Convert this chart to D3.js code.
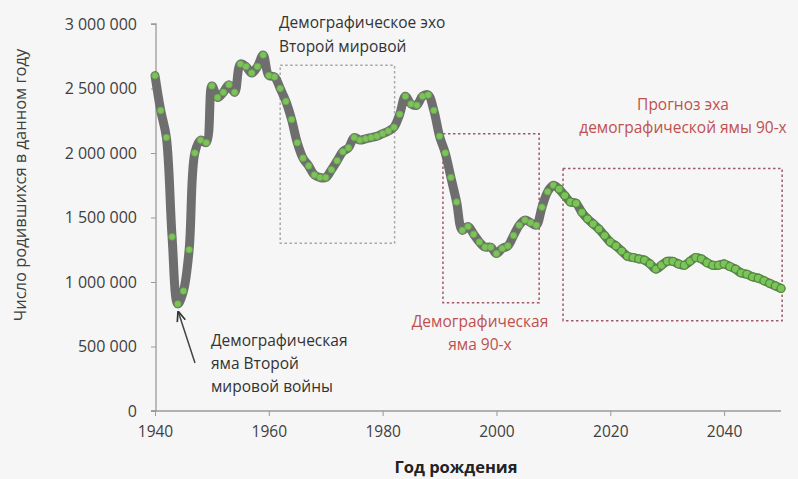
<!DOCTYPE html>
<html><head><meta charset="utf-8">
<script src="https://cdn.jsdelivr.net/npm/d3@7"></script>
<style>
html,body{margin:0;padding:0;background:#f6f6f6;}
svg{display:block;font-family:"Open Sans","DejaVu Sans",sans-serif;}
</style></head>
<body>
<svg id="chart" width="798" height="479"></svg>
<script>
// ---- data ----
const years = d3.range(1940, 2051);
const births = [
  // 1940-1949
  2600000, 2330000, 2120000, 1350000, 830000, 930000, 1250000, 2000000, 2100000, 2080000,
  // 1950-1959
  2520000, 2430000, 2470000, 2530000, 2470000, 2690000, 2670000, 2620000, 2670000, 2760000,
  // 1960-1969
  2600000, 2590000, 2500000, 2400000, 2260000, 2080000, 1960000, 1900000, 1830000, 1810000,
  // 1970-1979
  1810000, 1870000, 1940000, 2010000, 2040000, 2120000, 2100000, 2110000, 2120000, 2130000,
  // 1980-1989
  2150000, 2170000, 2200000, 2300000, 2440000, 2380000, 2370000, 2440000, 2450000, 2330000,
  // 1990-1999
  2130000, 2000000, 1810000, 1620000, 1400000, 1430000, 1370000, 1310000, 1270000, 1270000,
  // 2000-2009
  1220000, 1260000, 1280000, 1360000, 1440000, 1480000, 1460000, 1440000, 1580000, 1700000,
  // 2010-2019
  1750000, 1720000, 1670000, 1620000, 1610000, 1540000, 1490000, 1450000, 1410000, 1360000,
  // 2020-2029
  1310000, 1280000, 1240000, 1200000, 1190000, 1180000, 1170000, 1140000, 1100000, 1130000,
  // 2030-2039
  1160000, 1160000, 1140000, 1130000, 1160000, 1190000, 1180000, 1150000, 1130000, 1130000,
  // 2040-2050
  1140000, 1120000, 1100000, 1070000, 1060000, 1040000, 1030000, 1010000, 990000, 970000, 950000
];
const xTicks = [1940, 1960, 1980, 2000, 2020, 2040];
const yTicks = [0, 500000, 1000000, 1500000, 2000000, 2500000, 3000000];
const xTitle = "Год рождения";
const yTitle = "Число родившихся в данном году";

// annotation boxes: [x0 year, x1 year, y0 value, y1 value]
const boxes = [
  {x0: 1962, x1: 1982.1, y0: 1300000, y1: 2680000, color: "#a8a8a8"},
  {x0: 1990.6, x1: 2007.5, y0: 840000, y1: 2150000, color: "#a05a68"},
  {x0: 2011.7, x1: 2050.2, y0: 700000, y1: 1880000, color: "#a05a68"}
];

const data = years.map((y, i) => ({year: y, value: births[i]}));

// ---- layout ----
const svg = d3.select("#chart");
const x = d3.scaleLinear().domain([1940, 2050]).range([155, 781]);
const y = d3.scaleLinear().domain([0, 3000000]).range([411, 24]);

// axes
const yAxis = d3.axisLeft(y).tickValues(yTicks).tickSize(5).tickPadding(14)
  .tickFormat(v => d3.format(",")(v).replace(/,/g, " "));
const gy = svg.append("g").attr("transform", "translate(156,0)").call(yAxis);
gy.select(".domain").attr("stroke", "#9a9a9a").attr("stroke-width", 1.3).attr("d", "M-5,24H0V411H-5");
gy.selectAll(".tick line").attr("stroke", "#9a9a9a");
gy.selectAll(".tick text").attr("fill", "#404040").style("font-size", "16px")
  .style("font-family", "'Open Sans',sans-serif");

const xAxis = d3.axisBottom(x).tickValues(xTicks).tickSize(5).tickPadding(10).tickFormat(d3.format("d"));
const gx = svg.append("g").attr("transform", "translate(0,411)").call(xAxis);
gx.select(".domain").attr("stroke", "#9a9a9a").attr("stroke-width", 1.3).attr("d", "M151,0H781");
gx.selectAll(".tick line").attr("stroke", "#9a9a9a");
gx.selectAll(".tick text").attr("fill", "#404040").style("font-size", "15.5px")
  .style("font-family", "'Open Sans',sans-serif");

// titles
svg.append("text").attr("x", 456).attr("y", 473).attr("text-anchor", "middle")
  .attr("fill", "#222").style("font-size", "16.5px").style("font-weight", "bold").text(xTitle);
svg.append("text").attr("transform", "translate(26,185) rotate(-90)").attr("text-anchor", "middle")
  .attr("fill", "#404040").style("font-size", "16.5px").text(yTitle);

// boxes
boxes.forEach(b => {
  svg.append("rect")
    .attr("x", x(b.x0)).attr("y", y(b.y1))
    .attr("width", x(b.x1) - x(b.x0)).attr("height", y(b.y0) - y(b.y1))
    .attr("fill", "none").attr("stroke", b.color).attr("stroke-width", 1.5)
    .attr("stroke-dasharray", "2.5,2.5");
});

// line
const line = d3.line().x(d => x(d.year)).y(d => y(d.value)).curve(d3.curveCatmullRom.alpha(0.5));
svg.append("path").datum(data).attr("d", line).attr("fill", "none")
  .attr("stroke", "#6e6e6e").attr("stroke-width", 9).attr("stroke-linejoin", "round").attr("stroke-linecap", "round");

svg.append("g").selectAll("circle").data(data).join("circle")
  .attr("cx", d => x(d.year)).attr("cy", d => y(d.value))
  .attr("r", d => d.year >= 2011 ? 4 : 3.3)
  .attr("fill", "#7cc35a")
  .attr("stroke", d => d.year >= 2011 ? "#4f8f3a" : "#68a84a")
  .attr("stroke-width", d => d.year >= 2011 ? 1.2 : 0.8);

// annotations
function multi(lines, x0, y0, dy, anchor, color) {
  const t = svg.append("text").attr("text-anchor", anchor).attr("fill", color).style("font-size", "15.5px");
  lines.forEach((s, i) => t.append("tspan").attr("x", x0).attr("y", y0 + i * dy).text(s));
}
multi(["Демографическое эхо", "Второй мировой"], 279, 28, 24, "start", "#333");
multi(["Прогноз эха", "демографической ямы 90-х"], 683, 110, 23, "middle", "#c0504d");
multi(["Демографическая", "яма 90-х"], 480, 327, 23, "middle", "#c0504d");
multi(["Демографическая", "яма Второй", "мировой войны"], 211, 346, 23, "start", "#333");

// arrow
svg.append("defs").append("marker").attr("id", "ah").attr("viewBox", "0 0 10 10")
  .attr("refX", 9).attr("refY", 5).attr("markerWidth", 7).attr("markerHeight", 7)
  .attr("orient", "auto").append("path").attr("d", "M0,1L10,5L0,9").attr("fill", "none")
  .attr("stroke", "#333").attr("stroke-width", 1.6);
svg.append("line").attr("x1", 195).attr("y1", 363).attr("x2", x(1944.1)).attr("y2", 312)
  .attr("stroke", "#444").attr("stroke-width", 1.5).attr("marker-end", "url(#ah)");
</script>
</body></html>
